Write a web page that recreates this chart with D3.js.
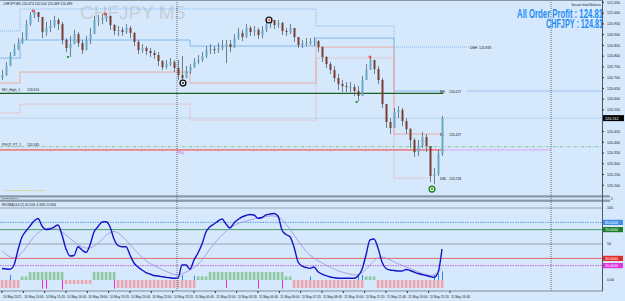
<!DOCTYPE html>
<html>
<head>
<meta charset="utf-8">
<script src="https://cdn.jsdelivr.net/npm/d3@7"></script>
<style>
body { margin: 0; background: #d5e8fc; }
svg { display: block; }
text { font-family: "Liberation Sans", Arial, sans-serif; }
</style>
</head>
<body>
<svg id="chart" width="625" height="301"></svg>
<script>
// ---- price data: 15 min candles (CHFJPY) ----
const firstOpen = 120.700
const closes = [120.712,120.754,120.801,120.833,120.861,120.884,120.949,120.991,121.005,120.982,
  120.912,120.931,120.940,120.968,120.949,120.875,120.838,120.856,120.903,120.861,
  120.828,120.875,120.903,120.968,120.968,120.977,120.987,120.945,120.917,120.922,
  120.912,120.931,120.908,120.866,120.828,120.838,120.824,120.815,120.805,120.777,
  120.749,120.763,120.773,120.745,120.712,120.698,120.731,120.749,120.773,120.782,
  120.801,120.828,120.833,120.828,120.838,120.847,120.856,120.842,120.884,120.908,
  120.889,120.931,120.912,120.922,120.898,120.922,120.949,120.968,120.945,120.954,
  120.917,120.912,120.931,120.889,120.852,120.861,120.861,120.870,120.870,120.842,
  120.796,120.763,120.736,120.698,120.670,120.661,120.656,120.656,120.638,120.615,
  120.689,120.736,120.782,120.740,120.689,120.577,120.494,120.466,120.540,120.550,
  120.498,120.461,120.410,120.354,120.382,120.424,120.382,120.243,120.252,120.345,120.512]
const highs = [120.736,120.773,120.819,120.856,120.884,120.912,120.968,121.005,121.015,121.005,
  120.977,120.959,120.968,120.987,120.977,120.959,120.884,120.894,120.922,120.912,
  120.875,120.894,120.931,120.987,120.991,120.996,121.001,120.987,120.949,120.940,
  120.935,120.949,120.940,120.912,120.875,120.856,120.847,120.838,120.828,120.819,
  120.782,120.782,120.791,120.782,120.782,120.801,120.754,120.763,120.791,120.805,
  120.819,120.847,120.856,120.847,120.861,120.875,120.875,120.875,120.903,120.931,
  120.922,120.949,120.940,120.940,120.931,120.940,120.968,120.977,120.963,120.968,
  120.959,120.931,120.949,120.922,120.884,120.875,120.884,120.884,120.889,120.875,
  120.847,120.801,120.773,120.754,120.717,120.689,120.680,120.680,120.670,120.661,
  120.708,120.763,120.796,120.782,120.754,120.698,120.577,120.512,120.559,120.568,
  120.559,120.512,120.466,120.419,120.410,120.447,120.438,120.364,120.280,120.364,120.522]
const lows = [120.689,120.708,120.754,120.801,120.828,120.856,120.875,120.940,120.977,120.959,
  120.884,120.894,120.912,120.931,120.922,120.856,120.819,120.796,120.866,120.842,
  120.810,120.838,120.856,120.912,120.940,120.949,120.959,120.922,120.898,120.894,
  120.894,120.903,120.884,120.847,120.810,120.815,120.805,120.796,120.787,120.754,
  120.736,120.740,120.754,120.726,120.689,120.684,120.708,120.717,120.745,120.763,
  120.773,120.791,120.810,120.810,120.815,120.828,120.768,120.819,120.838,120.875,
  120.870,120.884,120.894,120.894,120.880,120.884,120.912,120.931,120.926,120.931,
  120.898,120.894,120.903,120.866,120.838,120.838,120.847,120.852,120.847,120.819,
  120.773,120.745,120.717,120.680,120.642,120.633,120.633,120.633,120.615,120.591,
  120.633,120.698,120.736,120.717,120.670,120.559,120.466,120.438,120.475,120.512,
  120.475,120.438,120.373,120.331,120.336,120.373,120.354,120.215,120.205,120.243,120.336]

// session levels, steps start at these M5 bar indexes
const segStart = [-1.5, 13.5, 141, 235.5, 294]
const dbhLevels = [120.917, 121.019, 121.019, 120.940, 120.842]
const bhLevels  = [120.791, 120.875, 120.847, 120.884, 120.638]
const blLevels  = [120.675, 120.726, 120.675, 120.842, 120.438]
const dblLevels = [120.536, 120.577, 120.503, 120.791, 120.233]
const moHigh = 120.627
const pivotLevel = 120.379
const tdlLevel = 120.364

const levelLabels = [
  { name: 'DBH', text: '120.833', bar: 351, price: 120.842 },
  { name: 'BH',  text: '120.627', bar: 328.5, price: 120.638 },
  { name: 'BL',  text: '120.427', bar: 328.5, price: 120.438 },
  { name: 'DBL', text: '120.218', bar: 328.5, price: 120.233 }
]

const highMarks = [[23.25, 121.010], [77.25, 120.996], [276, 120.796]]
const lowMarks  = [[49.5, 120.796], [266, 120.587]]
const ringMarks = [[200.25, 120.968, '#111', true], [135.75, 120.675, '#111', false], [322.5, 120.182, '#1b8a1b', false]]
const separators = [131.25, 411.75]

// ---- RSIOMA values, one per candle ----
const rsiMain = [16.0,15.3,14.9,20.8,41.7,59.7,68.1,75.0,81.9,85.4,
  75.0,70.1,70.8,73.6,76.4,62.5,43.1,33.3,34.0,46.2,
  41.7,38.2,48.6,66.7,74.0,80.6,81.0,74.0,56.9,47.9,
  46.2,46.2,34.7,23.6,18.1,13.9,10.4,8.3,6.2,5.6,
  4.6,3.7,3.1,2.4,2.4,20.8,20.8,14.9,27.8,37.5,
  50.0,66.7,74.0,77.8,81.9,84.7,77.8,72.2,79.2,84.0,
  87.5,89.6,91.0,90.3,85.7,86.8,90.3,91.7,92.4,88.9,
  69.4,63.2,60.1,45.8,25.4,19.4,17.4,16.2,18.1,11.5,
  8.3,6.0,4.2,3.2,2.5,2.4,2.4,2.4,2.4,5.6,
  14.6,34.7,55.6,56.9,44.4,25.0,16.0,13.9,13.2,12.5,
  12.5,14.6,13.2,11.1,9.0,7.6,6.2,4.9,3.7,10.0,43.1]
// signal line, one value every second candle
const rsiSignal = [40.3,30.6,30.1,45.1,61.1,70.4,72.9,71.3,62.5,52.8,
  45.1,43.1,50.0,62.5,69.9,61.8,49.3,36.8,25.7,20.1,
  14.6,9.3,5.6,11.1,16.7,26.4,44.0,56.9,68.1,76.4,
  80.6,83.3,86.1,88.2,89.9,85.7,70.1,54.9,38.9,29.9,
  23.6,18.1,12.5,9.7,6.2,8.3,20.8,33.3,31.3,25.0,
  20.1,16.2,11.1,7.6,4.2,16.7]
// histogram, one value per candle
const histo = [-11,-11,-11,-11,-11,5,5,11,11,11,
  11,11,11,11,11,11,-5.5,-5.5,-5.5,-5.5,
  -5.5,-5.5,-5.5,11,11,11,11,11,11,-11,
  -11,-11,-11,-11,-11,-11,-11,-11,-11,-11,
  -11,-11,-11,-11,-11,-11,-11,-11,-11,5,
  5,5,11,11,11,11,11,11,11,11,
  11,11,11,11,11,11,11,11,11,11,
  11,5,5,-11,-11,-11,-11,-11,-11,-11,
  -11,-11,-11,-11,-11,-11,-11,-11,-11,-11,
  -11,5,5,5,-11,-11,-11,-11,-11,-11,
  -11,-11,-11,-11,-11,-11,-11,-11,-11,-11,-11]
const blueSpikes = [[2, 7], [45, 7], [48, 6], [77, 5], [89, 7], [90, 7], [108, 7], [109, 8], [110, 12]]
const pinkSpikes = [[10, -12], [11, -12], [15, -13], [28, -12], [56, -11], [64, -12], [70, -12]]
const rsiLevels = [
  { v: 100, color: '#8e9cab', dash: null, box: false },
  { v: 80, color: '#4f93dc', dash: '1.5,1', box: true },
  { v: 70, color: '#3f9460', dash: null, box: true },
  { v: 50, color: '#8e9cab', dash: null, box: false },
  { v: 30, color: '#e25a5a', dash: null, box: true },
  { v: 20, color: '#d54fd5', dash: '1.5,1', box: true }
]
const boxColors = { 80: '#3f8fe8', 70: '#1b7f2a', 30: '#e32b2b', 20: '#e034e0' }

const timeLabels = ['10 May 2021','10 May 14:00','10 May 15:20','10 May 16:40','10 May 18:00','10 May 19:20',
  '10 May 20:40','10 May 22:00','10 May 23:20','11 May 00:40','11 May 02:00','11 May 03:20','11 May 04:40',
  '11 May 06:00','11 May 07:20','11 May 08:40','11 May 10:00','11 May 11:20','11 May 12:40','11 May 14:00',
  '11 May 15:20','11 May 16:40']

// ---- scales ----
const plotRight = 602
const x = d3.scaleLinear().domain([0, 330]).range([2, 442])
const y = d3.scaleLinear().domain([120.150, 121.061]).range([196, 0])
const yr = d3.scaleLinear().domain([-20, 100]).range([294.4, 208])

const svg = d3.select('#chart')
svg.append('rect').attr('width', 625).attr('height', 301).attr('fill', '#d5e8fc')

const g = svg.append('g')

function tinyText(sel, size) {
  return sel.style('font-size', size + 'px').attr('fill', '#1a1a1a')
}

// watermark
g.append('text').attr('x', 80).attr('y', 19).text('CHFJPY M5')
  .style('font-size', '19px').attr('fill', '#c6ced8')

// horizontal bid line
const lastClose = closes[closes.length - 1]
g.append('line').attr('x1', 0).attr('x2', plotRight).attr('y1', y(lastClose)).attr('y2', y(lastClose))
  .attr('stroke', '#b3d0ee').attr('stroke-width', 0.8)

// level step lines
function stepLine(levels, endBar, color, dash, width) {
  const pts = segStart.map((b, k) => [b, levels[k]])
  pts.push([endBar, levels[levels.length - 1]])
  g.append('path')
    .attr('d', d3.line().x(d => x(d[0])).y(d => y(d[1])).curve(d3.curveStepAfter)(pts))
    .attr('fill', 'none').attr('stroke', color).attr('stroke-width', width)
    .attr('stroke-dasharray', dash)
}
stepLine(dbhLevels, 351, '#7fb6ec', '1,1', 0.9)
stepLine(bhLevels, 331, '#78b4ea', null, 0.9)
stepLine(blLevels, 331, '#eca79b', null, 0.9)
stepLine(dblLevels, 321, '#efa398', '1,1', 0.9)

// BH extension to right edge
g.append('line').attr('x1', x(349)).attr('x2', plotRight).attr('y1', y(bhLevels[4])).attr('y2', y(bhLevels[4]))
  .attr('stroke', '#5d8fe0').attr('stroke-width', 0.9).attr('stroke-dasharray', '1,1')

// pivot dash-dot
g.append('line').attr('x1', 0).attr('x2', plotRight).attr('y1', y(pivotLevel)).attr('y2', y(pivotLevel))
  .attr('stroke', '#7fc48c').attr('stroke-width', 0.9).attr('stroke-dasharray', '3,1.5,1,1.5')

// TDL
g.append('line').attr('x1', 0).attr('x2', x(331)).attr('y1', y(tdlLevel)).attr('y2', y(tdlLevel))
  .attr('stroke', '#e8858c').attr('stroke-width', 1.8)
g.append('line').attr('x1', x(331)).attr('x2', 551).attr('y1', y(tdlLevel)).attr('y2', y(tdlLevel))
  .attr('stroke', '#ee4ce8').attr('stroke-width', 0.9).attr('stroke-dasharray', '1,1')
tinyText(g.append('text').attr('x', 177).attr('y', y(tdlLevel) + 4.5).text('TDL'), 4.2).attr('fill', '#e040e0')

// MO high line
g.append('line').attr('x1', 0).attr('x2', x(331)).attr('y1', y(moHigh)).attr('y2', y(moHigh))
  .attr('stroke', '#1f5e22').attr('stroke-width', 1.3)
tinyText(g.append('text').attr('x', 2).attr('y', y(moHigh) - 2).text('MO_High_1'), 3.4)
tinyText(g.append('text').attr('x', 27).attr('y', y(moHigh) - 2).text('120.614'), 3.4)
tinyText(g.append('text').attr('x', 2).attr('y', y(pivotLevel) - 0.8).text('PIVOT_PT_1'), 3.2)
tinyText(g.append('text').attr('x', 27).attr('y', y(pivotLevel) - 0.8).text('120.345'), 3.4)

levelLabels.forEach(d => {
  tinyText(g.append('text').attr('x', x(d.bar)).attr('y', y(d.price) + 2).text(d.name), 3.4)
  tinyText(g.append('text').attr('x', x(d.bar) + 9).attr('y', y(d.price) + 2).text(d.text), 3.4)
})

// candles
const candles = closes.map((c, i) => {
  const o = i ? closes[i - 1] : firstOpen
  return { bar: 3 * i, o, c, h: Math.max(highs[i], o, c), l: Math.min(lows[i], o, c) }
})
const cg = g.append('g')
cg.selectAll('line').data(candles).enter().append('line')
  .attr('x1', d => x(d.bar) + 0.5).attr('x2', d => x(d.bar) + 0.5)
  .attr('y1', d => y(d.h)).attr('y2', d => y(d.l))
  .attr('stroke', '#5f7482').attr('stroke-width', 0.9)
cg.selectAll('rect').data(candles).enter().append('rect')
  .attr('x', d => x(d.bar) - 0.5).attr('width', 2)
  .attr('y', d => y(Math.max(d.o, d.c)))
  .attr('height', d => Math.max(1, Math.abs(y(d.o) - y(d.c))))
  .attr('fill', d => d.c >= d.o ? '#6aa8c6' : '#7a3d31')

// markers
highMarks.forEach(([b, p]) => {
  g.append('path').attr('d', `M${x(b) - 1.5},${y(p)}h3M${x(b)},${y(p) - 1.5}v3`)
    .attr('stroke', '#ee2a2a').attr('stroke-width', 1)
})
lowMarks.forEach(([b, p]) => {
  g.append('rect').attr('x', x(b) - 1).attr('y', y(p) - 1).attr('width', 2).attr('height', 2).attr('fill', '#1f9a2a')
})
ringMarks.forEach(([b, p, col, dot]) => {
  g.append('circle').attr('cx', x(b)).attr('cy', y(p)).attr('r', 2.9)
    .attr('fill', '#f4f8fb').attr('stroke', col).attr('stroke-width', 1.4)
  g.append('circle').attr('cx', x(b)).attr('cy', y(p)).attr('r', 1)
    .attr('fill', dot ? '#e22' : col)
})

// header texts
tinyText(g.append('text').attr('x', 3).attr('y', 5).text('CHFJPY,M5  120.474 120.500 120.469 120.489'), 3.3)
tinyText(g.append('text').attr('x', 601).attr('y', 6).attr('text-anchor', 'end').text('Session Initial Balances'), 2.8)
// condensed bold labels: squeeze horizontally
g.append('text').attr('transform', 'translate(603,18) scale(0.62,1)').attr('text-anchor', 'end')
  .text('All Order Profit : 124.81')
  .style('font-size', '12.5px').style('font-weight', 'bold').attr('fill', '#1d8cf6')
g.append('text').attr('transform', 'translate(603,28) scale(0.58,1)').attr('text-anchor', 'end')
  .text('CHFJPY : 124.81')
  .style('font-size', '12.5px').style('font-weight', 'bold').attr('fill', '#1d8cf6')
g.append('text').attr('x', 4).attr('y', 191).text('© 2021 Copyright Trigonometry Software')
  .style('font-size', '2.3px').attr('fill', '#e0b800')

// ---- indicator panes ----
svg.append('rect').attr('x', 0).attr('y', 195.3).attr('width', 610).attr('height', 2.2).attr('fill', '#8797a6')
svg.append('rect').attr('x', 0).attr('y', 199.6).attr('width', 610).attr('height', 2.2).attr('fill', '#8797a6')
tinyText(svg.append('text').attr('x', 2).attr('y', 199.4).text('ZombieChannel'), 2.3)
tinyText(svg.append('text').attr('x', 2).attr('y', 205.6).text('RSIOMA(14,8,21) 43.1034 -6.3030 11.9604'), 2.8)

rsiLevels.forEach(d => {
  svg.append('line').attr('x1', 0).attr('x2', plotRight).attr('y1', yr(d.v)).attr('y2', yr(d.v))
    .attr('stroke', d.color).attr('stroke-width', 0.9).attr('stroke-dasharray', d.dash)
})

// histogram
const hg = svg.append('g')
hg.selectAll('rect').data(histo).enter().append('rect')
  .attr('x', (d, i) => x(3 * i) - 1.2).attr('width', 2.6)
  .attr('y', d => Math.min(yr(d), yr(0))).attr('height', d => Math.abs(yr(d) - yr(0)))
  .attr('fill', d => d > 0 ? '#8fc9a0' : '#eea4ad')
blueSpikes.forEach(([i, v]) => {
  svg.append('rect').attr('x', x(3 * i)).attr('width', 1).attr('y', yr(v)).attr('height', yr(0) - yr(v)).attr('fill', '#2d8cf5')
})
pinkSpikes.forEach(([i, v]) => {
  svg.append('rect').attr('x', x(3 * i)).attr('width', 1).attr('y', yr(0)).attr('height', yr(v) - yr(0)).attr('fill', '#f02ad4')
})

svg.append('path')
  .attr('d', d3.line().x((d, i) => x(6 * i)).y(d => yr(d)).curve(d3.curveBasis)(rsiSignal))
  .attr('fill', 'none').attr('stroke', '#a48ee0').attr('stroke-width', 0.8)
svg.append('path')
  .attr('d', d3.line().x((d, i) => x(3 * i)).y(d => yr(d)).curve(d3.curveMonotoneX)(rsiMain))
  .attr('fill', 'none').attr('stroke', '#1414c8').attr('stroke-width', 1.4)

// vertical dotted separators
separators.forEach(b => {
  svg.append('line').attr('x1', x(b)).attr('x2', x(b)).attr('y1', 0).attr('y2', 291)
    .attr('stroke', '#4a4f55').attr('stroke-width', 0.8).attr('stroke-dasharray', '1,1')
})

// frame
svg.append('line').attr('x1', 0).attr('x2', plotRight).attr('y1', 0.5).attr('y2', 0.5).attr('stroke', '#8797a6')
svg.append('line').attr('x1', 0).attr('x2', plotRight + 1).attr('y1', 291).attr('y2', 291).attr('stroke', '#7d8b98')
svg.append('line').attr('x1', plotRight + 0.5).attr('x2', plotRight + 0.5).attr('y1', 0).attr('y2', 291)
  .attr('stroke', '#4d5862').attr('stroke-width', 1)

// price axis
const priceTicks = d3.range(120.20, 121.06, 0.05)
priceTicks.forEach(p => {
  if (Math.abs(y(p) - y(lastClose)) < 5) return
  svg.append('line').attr('x1', plotRight).attr('x2', plotRight + 2).attr('y1', y(p)).attr('y2', y(p)).attr('stroke', '#333')
  tinyText(svg.append('text').attr('x', 607).attr('y', y(p) + 1.3).text(d3.format('.3f')(p)), 3.6)
})
svg.append('rect').attr('x', 603).attr('y', y(lastClose) - 3).attr('width', 21).attr('height', 6).attr('fill', '#050505')
svg.append('text').attr('x', 605).attr('y', y(lastClose) + 1.4).text(d3.format('.3f')(lastClose))
  .style('font-size', '3.8px').attr('fill', '#fff')

// rsi axis
rsiLevels.filter(d => d.box).forEach(d => {
  svg.append('rect').attr('x', 603).attr('y', yr(d.v) - 2.6).attr('width', 20).attr('height', 5.2).attr('fill', boxColors[d.v])
  svg.append('text').attr('x', 605).attr('y', yr(d.v) + 1.3).text(d3.format('.4f')(d.v))
    .style('font-size', '3.6px').attr('fill', '#fff')
})
;[[100, '100'], [50, '50'], [0, '0.00']].forEach(([v, t]) => {
  tinyText(svg.append('text').attr('x', 607).attr('y', yr(v) + 1.3).text(t), 3.6)
})
tinyText(svg.append('text').attr('x', 611).attr('y', 200.2).text('0'), 3)

// time axis
timeLabels.forEach((t, k) => {
  const xx = x(16 * k)
  svg.append('line').attr('x1', xx).attr('x2', xx).attr('y1', 291).attr('y2', 293).attr('stroke', '#333')
  tinyText(svg.append('text').attr('x', xx + 1).attr('y', 298).text(t), 3.2)
})
</script>
</body>
</html>
